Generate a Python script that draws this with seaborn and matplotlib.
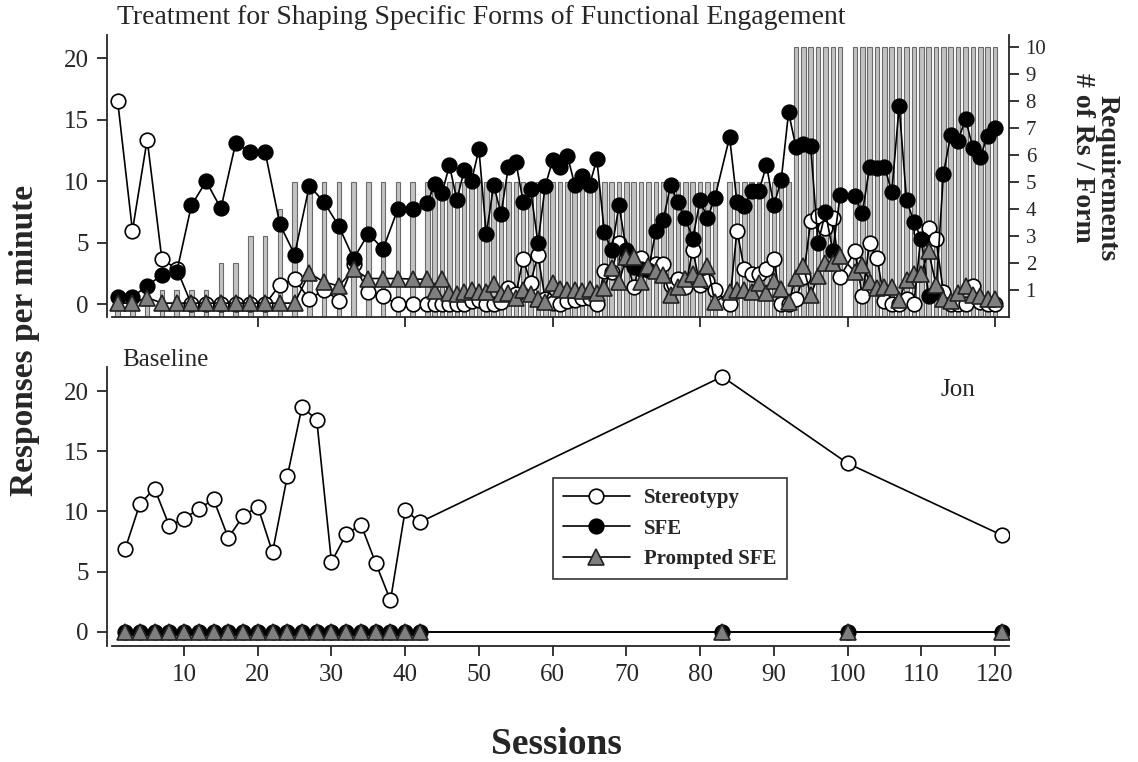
import matplotlib
matplotlib.use("Agg")
import matplotlib.pyplot as plt
import seaborn as sns
from matplotlib.lines import Line2D

# ---------------- data ----------------
trt_sessions = [1, 3, 5, 7, 9, 11, 13, 15, 17, 19, 21, 23, 25, 27, 29, 31, 33, 35, 37, 39, 41,
                43, 44, 45, 46, 47, 48, 49, 50, 51, 52, 53, 54, 55, 56, 57, 58, 59, 60, 61, 62,
                63, 64, 65, 66, 67, 68, 69, 70, 71, 72, 73, 74, 75, 76, 77, 78, 79, 80, 81, 82,
                84, 85, 86, 87, 88, 89, 90, 91, 92, 93, 94, 95, 96, 97, 98, 99,
                101, 102, 103, 104, 105, 106, 107, 108, 109, 110, 111, 112, 113, 114, 115, 116, 117, 118, 119, 120]

trt_stereotypy = [16.5, 6.0, 13.4, 3.65, 2.9, 0, 0, 0, 0, 0, 0, 1.6, 2.05, 0.4, 1.2, 0.3, 3.3, 1.0, 0.65, 0, 0,
                  0, 0, 0, 0, 0, 0, 0.25, 0.35, 0, 0, 0.2, 1.3, 0.8, 3.7, 1.75, 4.0, 0.4, 0.1, 0, 0.3,
                  0.35, 0.5, 0.5, 0, 2.7, 2.6, 5.0, 3.7, 1.4, 3.8, 2.9, 3.3, 3.3, 1.6, 2.1, 1.4, 4.4, 1.6, 1.9, 1.15,
                  0.05, 6.0, 2.85, 2.45, 2.45, 2.85, 3.7, 0.05, 0, 0.45, 2.2, 6.75, 7.15, 6.2, 7.0, 2.25,
                  4.3, 0.7, 5.0, 3.8, 0.3, 0, 0, 0.45, 0, 5.85, 6.2, 5.3, 1.0, 0, 0, 0, 1.5, 0.15, 0, 0]

trt_sfe = [0.6, 0.6, 1.5, 2.4, 2.6, 8.05, 10.0, 7.8, 13.1, 12.4, 12.4, 6.5, 4.05, 9.65, 8.3, 6.35, 3.7, 5.75, 4.5, 7.75, 7.75,
           8.2, 9.8, 9.05, 11.3, 8.5, 10.9, 10.05, 12.6, 5.7, 9.7, 7.35, 11.2, 11.6, 8.35, 9.4, 5.0, 9.65, 11.7, 11.2, 12.1,
           9.7, 10.45, 9.7, 11.8, 5.9, 4.4, 8.05, 4.4, 3.05, 2.85, 2.8, 6.0, 6.85, 9.7, 8.3, 7.0, 5.35, 8.45, 7.0, 8.65,
           13.6, 8.3, 8.0, 9.2, 9.25, 11.3, 8.05, 10.1, 15.6, 12.8, 13.05, 12.85, 4.95, 7.5, 4.3, 8.9,
           8.8, 7.4, 11.2, 11.1, 11.2, 9.15, 16.1, 8.5, 6.7, 5.35, 0.7, 1.0, 10.6, 13.8, 13.3, 15.1, 12.7, 12.0, 13.7, 14.3]

trt_prompted = [0.1, 0.1, 0.55, 0.1, 0.1, 0.1, 0.1, 0.1, 0.1, 0.1, 0.1, 0.1, 0.1, 2.55, 1.8, 1.5, 2.85, 2.1, 2.1, 2.1, 2.05,
                2.05, 1.1, 2.1, 0.9, 0.85, 1.0, 1.15, 1.0, 1.0, 1.65, 0.85, 0.9, 0.55, 1.2, 0.85, 0.4, 0.15, 1.75, 1.25, 1.15,
                1.2, 1.1, 1.25, 0.9, 1.3, 2.95, 1.8, 3.85, 3.85, 1.8, 3.15, 2.75, 2.4, 0.75, 1.4, 2.05, 2.5, 2.05, 3.15, 0.15,
                1.0, 1.15, 1.2, 1.0, 1.75, 0.95, 1.9, 1.25, 0.15, 2.15, 3.1, 0.75, 2.3, 3.4, 3.4, 3.9,
                2.65, 3.2, 1.85, 1.3, 1.45, 1.45, 0.35, 2.0, 2.5, 2.5, 4.3, 1.6, 0.4, 0.3, 0.95, 1.5, 0.75, 0.7, 0.45, 0.4]

form_requirement = [1, 1, 1, 1, 1, 1, 1, 2, 2, 3, 3, 4, 5, 5, 5, 5, 5, 5, 5, 5, 5,
                    5, 5, 5, 5, 5, 5, 5, 5, 5, 5, 5, 5, 5, 5, 5, 5, 5, 5, 5, 5,
                    5, 5, 5, 5, 5, 5, 5, 5, 5, 5, 5, 5, 5, 5, 5, 5, 5, 5, 5, 5,
                    5, 5, 5, 5, 5, 5, 5, 5, 5, 10, 10, 10, 10, 10, 10, 10,
                    10, 10, 10, 10, 10, 10, 10, 10, 10, 10, 10, 10, 10, 10, 10, 10, 10, 10, 10, 10]

bl_sessions = [2, 4, 6, 8, 10, 12, 14, 16, 18, 20, 22, 24, 26, 28, 30, 32, 34, 36, 38, 40, 42, 83, 100, 121]
bl_stereotypy = [6.85, 10.6, 11.9, 8.8, 9.4, 10.2, 11.0, 7.8, 9.6, 10.4, 6.6, 12.9, 18.7, 17.6,
                 5.8, 8.1, 8.9, 5.7, 2.6, 10.1, 9.1, 21.2, 14.0, 8.0]
bl_sfe = [0, 0, 0, 0, 0, 0, 0, 0, 0, 0, 0, 0, 0, 0, 0, 0, 0, 0, 0, 0, 0, 0, 0, 0]
bl_prompted = [0, 0, 0, 0, 0, 0, 0, 0, 0, 0, 0, 0, 0, 0, 0, 0, 0, 0, 0, 0, 0, 0, 0, 0]

left_ticks = [0, 5, 10, 15, 20]
right_ticks = [1, 2, 3, 4, 5, 6, 7, 8, 9, 10]
x_ticks_top = [20, 40, 60, 80, 100, 120]
x_ticks_bottom = [10, 20, 30, 40, 50, 60, 70, 80, 90, 100, 110, 120]

# ---------------- style ----------------
sns.set_style("ticks")
plt.rcParams["font.family"] = ["Liberation Serif", "DejaVu Serif"]
plt.rcParams["axes.linewidth"] = 1.3

W, H = 1138, 762
fig = plt.figure(figsize=(W / 100, H / 100), dpi=100)

def box(l, t, r, b):
    return [l / W, 1 - b / H, (r - l) / W, (b - t) / H]

ax_top = fig.add_axes(box(107, 35, 1009, 317))
ax_r = ax_top.twinx()
ax_bot = fig.add_axes(box(107, 367, 1009, 646))

XL = (-0.45, 121.9)

styles = dict(
    stereo=dict(marker="o", markersize=10.5, markerfacecolor="white", markeredgecolor="black"),
    sfe=dict(marker="o", markersize=10.5, markerfacecolor="black", markeredgecolor="black"),
    prompt=dict(marker="^", markersize=11, markerfacecolor="#7f7f7f", markeredgecolor="#222222"),
)
common = dict(color="black", linewidth=1.2, markeredgewidth=1.2, legend=False, sort=False)

# bars (right axis)
ax_r.bar(trt_sessions, form_requirement, width=0.62, color="#c2c2c2",
         edgecolor="#6a6a6a", linewidth=0.8, zorder=1)
ax_r.set_ylim(0, 10.43)
ax_r.set_yticks(right_ticks)
ax_top.set_zorder(ax_r.get_zorder() + 1)
ax_top.patch.set_visible(False)

sns.lineplot(x=trt_sessions, y=trt_stereotypy, ax=ax_top, **common, **styles["stereo"])
sns.lineplot(x=trt_sessions, y=trt_sfe, ax=ax_top, **common, **styles["sfe"])
sns.lineplot(x=trt_sessions, y=trt_prompted, ax=ax_top, **common, **styles["prompt"])

sns.lineplot(x=bl_sessions, y=bl_stereotypy, ax=ax_bot, **common, **styles["stereo"])
sns.lineplot(x=bl_sessions, y=bl_sfe, ax=ax_bot, **common, **styles["sfe"])
sns.lineplot(x=bl_sessions, y=bl_prompted, ax=ax_bot, **common, **styles["prompt"])

# axes formatting
ax_top.set_xlim(*XL)
ax_top.set_ylim(-1.03, 21.9)
ax_top.set_yticks(left_ticks)
ax_top.set_xticks(x_ticks_top)
ax_top.set_xticklabels([])
ax_bot.set_xlim(*XL)
ax_bot.set_ylim(-1.19, 22.0)
ax_bot.set_yticks(left_ticks)
ax_bot.set_xticks(x_ticks_bottom)

for a in (ax_top, ax_bot, ax_r):
    a.set_xlabel("")
    a.set_ylabel("")
    a.spines["top"].set_visible(False)
    a.tick_params(direction="out", length=7, width=1.3, labelsize=18, pad=6)

ax_top.spines["right"].set_visible(False)
ax_bot.spines["right"].set_visible(False)
ax_r.spines["left"].set_visible(False)
ax_r.spines["bottom"].set_visible(False)
ax_r.tick_params(axis="y", labelsize=15, pad=5)
ax_top.spines["bottom"].set_bounds(0.25, 121.9)
ax_bot.spines["bottom"].set_bounds(0.25, 121.9)

# texts
fig.text(117 / W, 1 - 18 / H, "Treatment for Shaping Specific Forms of Functional Engagement",
         ha="left", va="center", fontsize=20)
fig.text(122 / W, 1 - 360 / H, "Baseline", ha="left", va="center", fontsize=18)
fig.text(958 / W, 1 - 390 / H, "Jon", ha="center", va="center", fontsize=18)
fig.text(25 / W, 1 - 340 / H, "Responses per minute", rotation=90, ha="center", va="center",
         fontsize=24, fontweight="bold")
fig.text(556 / W, 1 - 745 / H, "Sessions", ha="center", va="center", fontsize=27, fontweight="bold")
fig.text(1082 / W, 1 - 158 / H, "# of Rs / Form", rotation=-90, ha="center", va="center",
         fontsize=20, fontweight="bold")
fig.text(1107 / W, 1 - 178 / H, "Requirements", rotation=-90, ha="center", va="center",
         fontsize=20, fontweight="bold")

handles = [
    Line2D([], [], color="black", linewidth=1.2, markeredgewidth=1.2, **styles["stereo"]),
    Line2D([], [], color="black", linewidth=1.2, markeredgewidth=1.2, **styles["sfe"]),
    Line2D([], [], color="black", linewidth=1.2, markeredgewidth=1.2, **styles["prompt"]),
]
leg = ax_bot.legend(handles, ["Stereotypy", "SFE", "Prompted SFE"], loc="upper left",
                    bbox_to_anchor=(0.494, 0.603), borderaxespad=0, frameon=True, fancybox=False,
                    edgecolor="black", handlelength=3.2, handletextpad=0.7, borderpad=0.5,
                    labelspacing=0.5,
                    prop={"family": "Liberation Serif", "weight": "bold", "size": 15})
leg.get_frame().set_linewidth(1.2)

fig.savefig("out.png", dpi=100)
